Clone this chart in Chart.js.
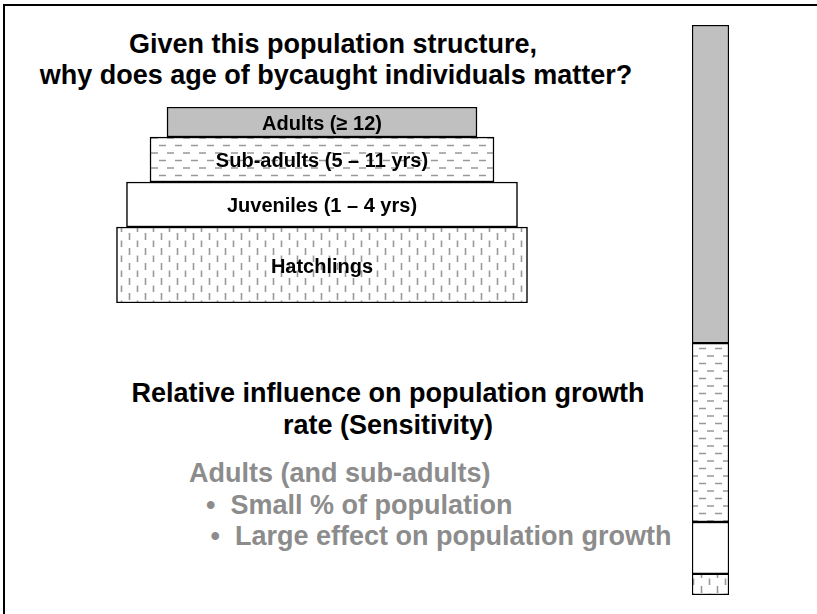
<!DOCTYPE html>
<html>
<head>
<meta charset="utf-8">
<script src="https://cdn.jsdelivr.net/npm/chart.js@4.4.1/dist/chart.umd.min.js"></script>
<style>
  html, body { margin: 0; padding: 0; background: #fff; }
  #stage { position: relative; width: 817px; height: 614px; overflow: hidden; background: #fff; font-family: "Liberation Sans", Arial, sans-serif; }
  #frame { position: absolute; left: 3px; top: 4px; width: 830px; height: 630px; border-left: 2px solid #000; border-top: 2px solid #000; box-sizing: border-box; }
  .t { position: absolute; font-weight: bold; white-space: nowrap; line-height: 1; font-size: 27px; }
  #pyrWrap { position: absolute; left: 62px; top: 97px; width: 520px; height: 216px; }
  #barWrap { position: absolute; left: 682px; top: 15px; width: 57px; height: 590px; }
</style>
</head>
<body>
<div id="stage">
  <div id="frame"></div>
  <div class="t" id="t1" style="color:#000; left:0; width:666px; text-align:center; top:31px;">Given this population structure,</div>
  <div class="t" id="t2" style="color:#000; left:0; width:672px; text-align:center; top:62px;">why does age of bycaught individuals matter?</div>
  <div class="t" id="t3" style="color:#000; left:0; width:776px; text-align:center; top:380px;">Relative influence on population growth</div>
  <div class="t" id="t4" style="color:#000; left:0; width:776px; text-align:center; top:412px;">rate (Sensitivity)</div>
  <div class="t" id="t5" style="color:#8c8c8c; left:189px; top:460px;">Adults (and sub-adults)</div>
  <div class="t" id="t6" style="color:#8c8c8c; left:206px; top:492px;">•&nbsp;&nbsp;Small % of population</div>
  <div class="t" id="t7" style="color:#8c8c8c; left:210.5px; top:523px;">•&nbsp;&nbsp;Large effect on population growth</div>
  <div id="pyrWrap"><canvas id="pyr"></canvas></div>
  <div id="barWrap"><canvas id="bar"></canvas></div>
</div>
<script>
// ---- data ----
const stages = ["Hatchlings", "Juveniles (1 – 4 yrs)", "Sub-adults (5 – 11 yrs)", "Adults (≥ 12)"];
const populationShare = [82.2, 78.2, 68.8, 62.0];      // relative abundance (pyramid width)
const sensitivity = [3.7, 9.1, 31.4, 55.8];             // relative influence on growth rate (%)

// ---- styles ----
const rowThickness = [76, 45, 45, 30];   // px, drawing style of pyramid rows
const labelFont = 'bold 20px "Liberation Sans", Arial, sans-serif';

function makePattern(kind) {
  const c = document.createElement('canvas');
  const ctx = c.getContext('2d');
  c.width = 16; c.height = 15;
  ctx.fillStyle = '#fff'; ctx.fillRect(0, 0, 16, 15);
  ctx.strokeStyle = '#999'; ctx.lineWidth = 1.6;
  ctx.beginPath();
  if (kind === 'h') {
    ctx.moveTo(1, 3.5); ctx.lineTo(8, 3.5);
    ctx.moveTo(9, 11); ctx.lineTo(16, 11);
  } else {
    ctx.moveTo(3.5, 1); ctx.lineTo(3.5, 8);
    ctx.moveTo(11.5, 8.5); ctx.lineTo(11.5, 15);
  }
  ctx.stroke();
  return ctx.createPattern(c, 'repeat');
}
const fills = [makePattern('v'), '#ffffff', makePattern('h'), '#c0c0c0'];

// centers of rows along a linear axis, stacking rows bottom-up
const centers = [];
let acc = 0;
rowThickness.forEach((t) => { centers.push(acc + t / 2); acc += t; });
const totalHeight = acc;

const labelPlugin = {
  id: 'rowLabels',
  afterDatasetsDraw(chart) {
    const ctx = chart.ctx;
    ctx.save();
    ctx.font = labelFont;
    ctx.fillStyle = '#000';
    ctx.textAlign = 'center';
    ctx.textBaseline = 'middle';
    chart.data.datasets.forEach((ds, i) => {
      const el = chart.getDatasetMeta(i).data[0];
      ctx.fillText(ds.label, (el.x + el.base) / 2, el.y + 2);
    });
    ctx.restore();
  }
};

new Chart(document.getElementById('pyr'), {
  type: 'bar',
  data: {
    datasets: stages.map((s, i) => ({
      label: s,
      data: [{ y: centers[i], x: [-populationShare[i] / 2, populationShare[i] / 2] }],
      backgroundColor: fills[i],
      borderColor: '#000',
      borderWidth: 1.5,
      borderSkipped: false,
      barThickness: rowThickness[i],
      grouped: false
    }))
  },
  options: {
    indexAxis: 'y',
    responsive: true,
    maintainAspectRatio: false,
    animation: false,
    layout: { padding: 10 },
    plugins: { legend: { display: false }, tooltip: { enabled: false } },
    scales: {
      x: { type: 'linear', min: -50, max: 50, display: false, offset: false },
      y: { type: 'linear', min: 0, max: totalHeight, display: false, offset: false }
    }
  },
  plugins: [labelPlugin]
});

new Chart(document.getElementById('bar'), {
  type: 'bar',
  data: {
    labels: ['Sensitivity'],
    datasets: stages.map((s, i) => ({
      label: s,
      data: [sensitivity[i]],
      backgroundColor: fills[i],
      borderColor: '#000',
      borderWidth: 1.5,
      borderSkipped: false
    }))
  },
  options: {
    responsive: true,
    maintainAspectRatio: false,
    animation: false,
    layout: { padding: 10 },
    datasets: { bar: { barPercentage: 1, categoryPercentage: 1 } },
    plugins: { legend: { display: false }, tooltip: { enabled: false } },
    scales: {
      x: { stacked: true, display: false },
      y: { stacked: true, min: 0, max: 100, display: false }
    }
  }
});
</script>
</body>
</html>
